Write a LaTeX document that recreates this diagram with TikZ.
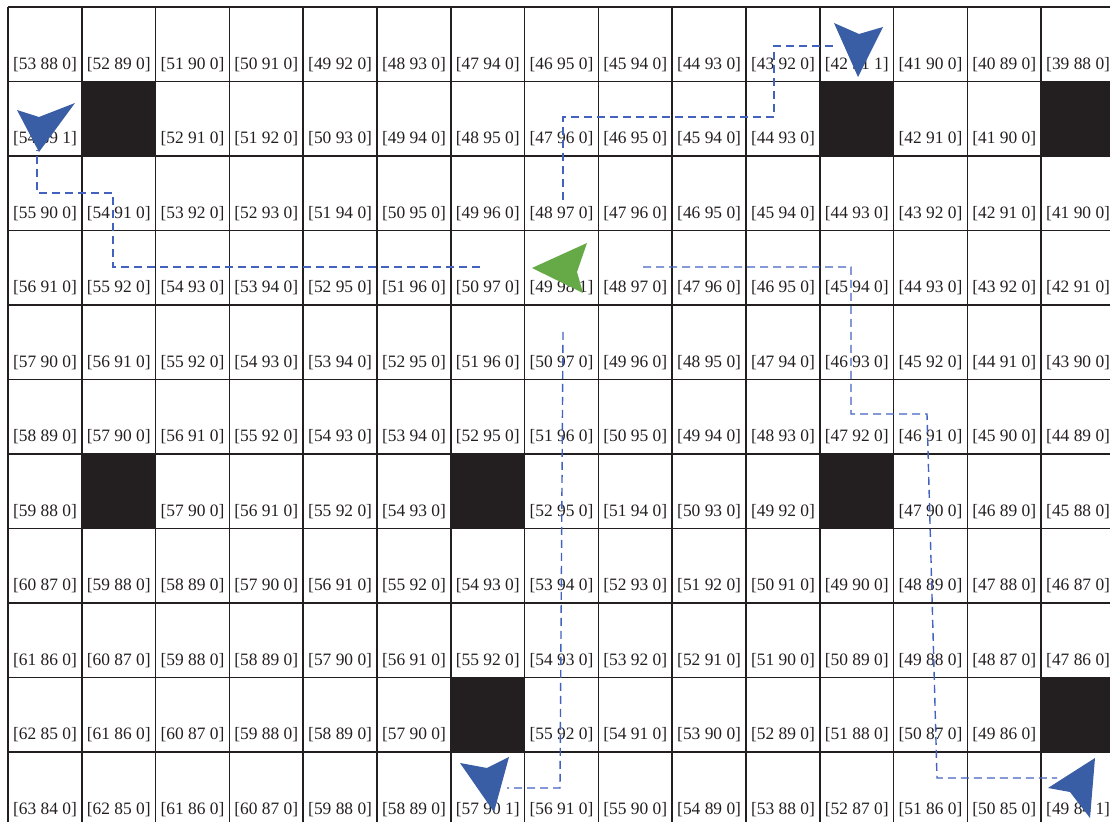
\documentclass[tikz,border=0pt]{standalone}
\usepackage{fontspec}
\setmainfont{Liberation Serif}
\usepackage{etoolbox}
\definecolor{CellInk}{RGB}{35,31,32}
\definecolor{AgentBlue}{RGB}{58,94,166}
\definecolor{GoalGreen}{RGB}{101,170,70}
\definecolor{RouteBlue}{RGB}{66,98,190}

\begin{document}
\begin{tikzpicture}[x=0.5pt, y=-0.5pt,
    gridline/.style={CellInk, line width=0.75pt},
    blocked/.style={fill=CellInk},
    cell label/.style={anchor=base, inner sep=0pt, text=CellInk, font=\fontsize{8.7}{10}\selectfont},
    route/.style={RouteBlue, line width=0.7pt, dash pattern=on 4pt off 2.5pt},
    agent/.style={fill=AgentBlue},
    goal/.style={fill=GoalGreen}]
    \useasboundingbox (0,0) rectangle (1110,822);
    \clip (0,0) rectangle (1110,822);

    % Cells: value label, or obstacle (X)
    \foreach \r/\cells in {
      0/{53 88 0,52 89 0,51 90 0,50 91 0,49 92 0,48 93 0,47 94 0,46 95 0,45 94 0,44 93 0,43 92 0,42 91 1,41 90 0,40 89 0,39 88 0},
      1/{54 89 1,X,52 91 0,51 92 0,50 93 0,49 94 0,48 95 0,47 96 0,46 95 0,45 94 0,44 93 0,X,42 91 0,41 90 0,X},
      2/{55 90 0,54 91 0,53 92 0,52 93 0,51 94 0,50 95 0,49 96 0,48 97 0,47 96 0,46 95 0,45 94 0,44 93 0,43 92 0,42 91 0,41 90 0},
      3/{56 91 0,55 92 0,54 93 0,53 94 0,52 95 0,51 96 0,50 97 0,49 98 1,48 97 0,47 96 0,46 95 0,45 94 0,44 93 0,43 92 0,42 91 0},
      4/{57 90 0,56 91 0,55 92 0,54 93 0,53 94 0,52 95 0,51 96 0,50 97 0,49 96 0,48 95 0,47 94 0,46 93 0,45 92 0,44 91 0,43 90 0},
      5/{58 89 0,57 90 0,56 91 0,55 92 0,54 93 0,53 94 0,52 95 0,51 96 0,50 95 0,49 94 0,48 93 0,47 92 0,46 91 0,45 90 0,44 89 0},
      6/{59 88 0,X,57 90 0,56 91 0,55 92 0,54 93 0,X,52 95 0,51 94 0,50 93 0,49 92 0,X,47 90 0,46 89 0,45 88 0},
      7/{60 87 0,59 88 0,58 89 0,57 90 0,56 91 0,55 92 0,54 93 0,53 94 0,52 93 0,51 92 0,50 91 0,49 90 0,48 89 0,47 88 0,46 87 0},
      8/{61 86 0,60 87 0,59 88 0,58 89 0,57 90 0,56 91 0,55 92 0,54 93 0,53 92 0,52 91 0,51 90 0,50 89 0,49 88 0,48 87 0,47 86 0},
      9/{62 85 0,61 86 0,60 87 0,59 88 0,58 89 0,57 90 0,X,55 92 0,54 91 0,53 90 0,52 89 0,51 88 0,50 87 0,49 86 0,X},
      10/{63 84 0,62 85 0,61 86 0,60 87 0,59 88 0,58 89 0,57 90 1,56 91 0,55 90 0,54 89 0,53 88 0,52 87 0,51 86 0,50 85 0,49 84 1}}{
      \foreach \lab [count=\c from 0] in \cells {
        \ifdefstring{\lab}{X}{%
          \fill[blocked] ({8+73.8*\c},{7+74.5*\r}) rectangle ++(73.8,74.5);
        }{%
          \node[cell label] (c-\r-\c) at ({8+73.8*(\c+0.5)},{7+74.5*(\r+1)-12}) {[\lab]};
        }
      }
    }

    % Grid
    \foreach \c in {0,...,15}
      \draw[gridline] ({8+73.8*\c},7) -- ({8+73.8*\c},830);
    \foreach \r in {0,...,11}
      \draw[gridline] (8,{7+74.5*\r}) -- (1115,{7+74.5*\r});

    % Route ends
    \coordinate (goal-w) at (480,267);
    \coordinate (goal-n) at (563,200);
    \coordinate (goal-e) at (643,267);
    \coordinate (goal-s) at (563,332);
    \coordinate (agent-nw) at (37,150);
    \coordinate (agent-ne) at (837,46);
    \coordinate (agent-sw) at (507,788);
    \coordinate (agent-se) at (1057,778);

    % Routes
    \draw[route] (goal-w) -| (113,193) -| (agent-nw);
    \draw[route] (goal-n) |- (774,117) |- (agent-ne);
    \draw[route] (goal-e) -| (851,414) -- (927,414) -- (937,778) -- (agent-se);
    \draw[route] (goal-s) -- (560,788) -- (agent-sw);

    % Agents
    \fill[agent] (858,77) -- (834,23) -- (859,34) -- (883,27) -- cycle;
    \fill[agent] (39,152) -- (17,110) -- (39,117) -- (75,103) -- cycle;
    \fill[agent] (494,812) -- (460,763) -- (487,768) -- (509,757) -- cycle;
    \fill[agent] (1095,758) -- (1048,788) -- (1070,792) -- (1090,818) -- cycle;

    % Goal
    \fill[goal] (532,268) -- (587,243) -- (577,272) -- (583,293) -- cycle;
\end{tikzpicture}
\end{document}
